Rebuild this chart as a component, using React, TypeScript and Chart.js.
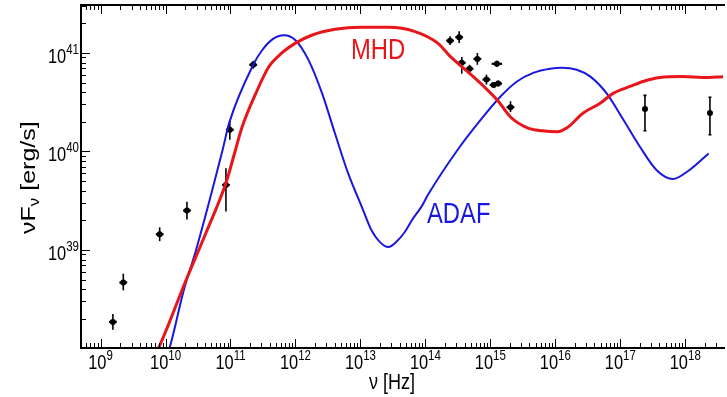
import React, { useEffect, useRef } from "react";
import { Chart, registerables } from "chart.js";

Chart.register(...registerables);

// ---- axis ranges (log10) ----
const xMinLog = 8.699;
const xMaxLog = 18.581;
const yMinLog = 38.005;
const yMaxLog = 41.487;
const xLabelExps = [9, 10, 11, 12, 13, 14, 15, 16, 17, 18];
const yLabelExps = [39, 40, 41];

// ---- ADAF model (log10 nu, log10 nuFnu) ----
const adafLogNu = [10.0, 10.06, 10.28, 10.47, 10.88, 10.98, 11.35, 11.49, 11.65, 11.82, 12.0, 12.2, 12.41, 12.61, 12.81, 13.02, 13.17, 13.3, 13.43, 13.55, 13.68, 13.8, 13.94, 14.04, 14.5, 14.85, 15.16, 15.41, 15.67, 15.92, 16.1, 16.33, 16.54, 16.79, 17.05, 17.3, 17.56, 17.81, 18.06, 18.36];
const adafLogL = [37.9, 38.0, 38.59, 39.0, 40.02, 40.29, 40.88, 41.03, 41.14, 41.18, 41.13, 40.93, 40.59, 40.18, 39.78, 39.44, 39.2, 39.08, 39.03, 39.08, 39.18, 39.31, 39.44, 39.56, 40.02, 40.32, 40.56, 40.71, 40.8, 40.84, 40.85, 40.83, 40.76, 40.59, 40.32, 40.05, 39.81, 39.72, 39.81, 39.98];

// ---- MHD model ----
const mhdLogNu = [9.85, 9.89, 10.32, 10.62, 10.93, 11.07, 11.18, 11.39, 11.59, 11.79, 12.0, 12.25, 12.61, 13.02, 13.43, 13.83, 14.19, 14.39, 14.65, 14.9, 15.11, 15.31, 15.57, 15.8, 16.03, 16.18, 16.43, 16.69, 16.89, 17.15, 17.35, 17.61, 17.96, 18.27, 18.6];
const mhdLogL = [37.95, 38.0, 38.7, 39.17, 39.68, 40.0, 40.25, 40.59, 40.86, 41.0, 41.1, 41.18, 41.24, 41.26, 41.26, 41.22, 41.1, 40.96, 40.81, 40.66, 40.52, 40.35, 40.24, 40.21, 40.2, 40.24, 40.39, 40.49, 40.59, 40.66, 40.71, 40.75, 40.76, 40.75, 40.76];

// ---- observed points ----
const ptLogNu = [9.19, 9.35, 9.91, 10.33, 10.93, 10.99, 11.35, 14.38, 14.52, 14.56, 14.68, 14.8, 15.1, 14.94, 15.05, 15.12, 15.31, 17.38, 18.38];
const ptLogL = [38.27, 38.67, 39.16, 39.4, 39.66, 40.22, 40.88, 41.125, 41.16, 40.9, 40.84, 40.94, 40.89, 40.73, 40.675, 40.69, 40.45, 40.43, 40.39];
const ptLogLhi = [38.35, 38.76, 39.23, 39.49, 39.83, 40.32, 40.92, 41.17, 41.22, 40.96, 40.88, 41.0, 40.92, 40.78, 40.7, 40.72, 40.51, 40.57, 40.55];
const ptLogLlo = [38.19, 38.59, 39.09, 39.31, 39.39, 40.12, 40.84, 41.08, 41.1, 40.79, 40.8, 40.88, 40.86, 40.68, 40.65, 40.66, 40.4, 40.21, 40.17];
const ptLogNuErr = [0.06, 0.06, 0.06, 0.06, 0.06, 0.06, 0.06, 0.06, 0.06, 0.06, 0.06, 0.06, 0.08, 0.06, 0.06, 0.06, 0.06, 0, 0];

const RED = "rgb(232,22,26)";
const BLUE = "rgb(24,24,222)";
const FONT = '"Liberation Sans", Arial, Helvetica, sans-serif';
const SX = 0.82;

const p10 = (v: number) => Math.pow(10, v);

function textW(ctx: CanvasRenderingContext2D, text: string, size: number) {
  ctx.save();
  ctx.font = `${size}px ${FONT}`;
  const w = ctx.measureText(text).width * SX;
  ctx.restore();
  return w;
}

function drawText(ctx: CanvasRenderingContext2D, text: string, x: number, y: number, size: number, color: string) {
  ctx.save();
  ctx.font = `${size}px ${FONT}`;
  ctx.translate(x, y);
  ctx.scale(SX, 1);
  ctx.textAlign = "left";
  ctx.textBaseline = "alphabetic";
  ctx.fillStyle = color;
  ctx.fillText(text, 0, 0);
  ctx.restore();
}

function drawPow(ctx: CanvasRenderingContext2D, exp: number, x: number, y: number, align: "right" | "center") {
  const base = "10";
  const e = String(exp);
  const bs = 20;
  const es = 14;
  const wb = textW(ctx, base, bs);
  const we = textW(ctx, e, es);
  const total = wb + we;
  const x0 = align === "right" ? x - total : x - total / 2;
  drawText(ctx, base, x0, y, bs, "#000");
  drawText(ctx, e, x0 + wb, y - 9, es, "#000");
}

const framePlugin = {
  id: "framePlugin",
  beforeDatasetsDraw(chart: any) {
    const ctx: CanvasRenderingContext2D = chart.ctx;
    const xs = chart.scales.x;
    const ys = chart.scales.y;
    ctx.save();
    ctx.strokeStyle = "#000";
    ctx.lineWidth = 1.6;
    for (let i = 0; i < ptLogNu.length; i++) {
      const px = xs.getPixelForValue(p10(ptLogNu[i]));
      const pyHi = ys.getPixelForValue(p10(ptLogLhi[i]));
      const pyLo = ys.getPixelForValue(p10(ptLogLlo[i]));
      const py = ys.getPixelForValue(p10(ptLogL[i]));
      ctx.beginPath();
      ctx.moveTo(px, pyHi);
      ctx.lineTo(px, pyLo);
      ctx.stroke();
      if (ptLogNuErr[i] > 0) {
        const pxL = xs.getPixelForValue(p10(ptLogNu[i] - ptLogNuErr[i]));
        const pxR = xs.getPixelForValue(p10(ptLogNu[i] + ptLogNuErr[i]));
        ctx.lineWidth = 2.2;
        ctx.beginPath();
        ctx.moveTo(pxL, py);
        ctx.lineTo(pxR, py);
        ctx.stroke();
        ctx.lineWidth = 1.6;
      } else {
        ctx.beginPath();
        ctx.moveTo(px - 1.5, pyHi);
        ctx.lineTo(px + 1.5, pyHi);
        ctx.moveTo(px - 1.5, pyLo);
        ctx.lineTo(px + 1.5, pyLo);
        ctx.stroke();
      }
    }
    ctx.restore();
  },
  afterDraw(chart: any) {
    const ctx: CanvasRenderingContext2D = chart.ctx;
    const xs = chart.scales.x;
    const ys = chart.scales.y;
    const a = chart.chartArea;
    ctx.save();
    ctx.strokeStyle = "#000";
    // frame
    ctx.lineWidth = 2;
    ctx.beginPath();
    ctx.moveTo(a.right + 2, a.top);
    ctx.lineTo(a.left, a.top);
    ctx.lineTo(a.left, a.bottom);
    ctx.lineTo(a.right + 2, a.bottom);
    ctx.stroke();
    // x ticks
    ctx.lineWidth = 1;
    for (let n = 8; n <= 18; n++) {
      for (let k = 1; k <= 9; k++) {
        const lv = n + Math.log10(k);
        if (lv < xMinLog || lv > xMaxLog) continue;
        const px = Math.round(xs.getPixelForValue(k * p10(n))) + 0.5;
        const len = k === 1 ? 9 : 5;
        ctx.beginPath();
        ctx.moveTo(px, a.bottom);
        ctx.lineTo(px, a.bottom - len);
        ctx.moveTo(px, a.top);
        ctx.lineTo(px, a.top + len);
        ctx.stroke();
      }
    }
    // y ticks
    for (let n = 37; n <= 41; n++) {
      for (let k = 1; k <= 9; k++) {
        const lv = n + Math.log10(k);
        if (lv < yMinLog || lv > yMaxLog) continue;
        const py = Math.round(ys.getPixelForValue(k * p10(n))) + 0.5;
        const len = k === 1 ? 9 : 5;
        ctx.beginPath();
        ctx.moveTo(a.left, py);
        ctx.lineTo(a.left + len, py);
        ctx.stroke();
      }
    }
    // tick labels
    for (const e of xLabelExps) {
      const px = xs.getPixelForValue(p10(e));
      drawPow(ctx, e, px, a.bottom + 21, "center");
    }
    for (const e of yLabelExps) {
      const py = ys.getPixelForValue(p10(e));
      drawPow(ctx, e, a.left - 2, py + 10, "right");
    }
    // x title
    {
      const s = 22;
      const t = "\u03bd [Hz]";
      const w = textW(ctx, t, s);
      drawText(ctx, t, 392 - w / 2, 389, s, "#000");
    }
    // y title (rotated)
    {
      ctx.save();
      ctx.translate(35, 234);
      ctx.rotate(-Math.PI / 2);
      ctx.scale(1, SX);
      ctx.fillStyle = "#000";
      ctx.textBaseline = "alphabetic";
      ctx.textAlign = "left";
      ctx.font = `25px ${FONT}`;
      const p1 = "\u03bdF";
      ctx.fillText(p1, 0, 0);
      let x = ctx.measureText(p1).width;
      ctx.font = `17px ${FONT}`;
      ctx.fillText("\u03bd", x, 5);
      x += ctx.measureText("\u03bd").width;
      ctx.font = `25px ${FONT}`;
      ctx.fillText(" [erg/s]", x, 0);
      ctx.restore();
    }
    // annotations
    drawText(ctx, "MHD", 351, 59, 29, RED);
    drawText(ctx, "ADAF", 427, 222.5, 29, BLUE);
    ctx.restore();
  },
};

export default function App() {
  const ref = useRef<HTMLCanvasElement | null>(null);
  useEffect(() => {
    if (!ref.current) return;
    const adaf = adafLogNu.map((v, i) => ({ x: p10(v), y: p10(adafLogL[i]) }));
    const mhd = mhdLogNu.map((v, i) => ({ x: p10(v), y: p10(mhdLogL[i]) }));
    const pts = ptLogNu.map((v, i) => ({ x: p10(v), y: p10(ptLogL[i]) }));
    const chart = new Chart(ref.current, {
      type: "scatter",
      data: {
        datasets: [
          {
            label: "MHD",
            data: mhd,
            showLine: true,
            borderColor: RED,
            borderWidth: 3,
            pointRadius: 0,
            tension: 0.4,
            cubicInterpolationMode: "monotone",
          },
          {
            label: "ADAF",
            data: adaf,
            showLine: true,
            borderColor: BLUE,
            borderWidth: 2,
            pointRadius: 0,
            tension: 0.4,
            cubicInterpolationMode: "monotone",
          },
          {
            label: "data",
            data: pts,
            showLine: false,
            pointRadius: 3,
            pointBackgroundColor: "#000",
            pointBorderColor: "#000",
            pointBorderWidth: 0,
          },
        ],
      } as any,
      options: {
        animation: false,
        responsive: false,
        devicePixelRatio: 1,
        layout: { padding: { left: 81, top: 5, right: 0, bottom: 49 } },
        plugins: { legend: { display: false }, tooltip: { enabled: false }, title: { display: false } },
        events: [],
        scales: {
          x: { type: "logarithmic", display: false, min: p10(xMinLog), max: p10(xMaxLog), bounds: "data" },
          y: { type: "logarithmic", display: false, min: p10(yMinLog), max: p10(yMaxLog), bounds: "data" },
        },
      } as any,
      plugins: [framePlugin],
    });
    return () => chart.destroy();
  }, []);
  return (
    <div style={{ position: "fixed", left: 0, top: 0, width: 727, height: 397, background: "#fff" }}>
      <canvas ref={ref} width={727} height={397} style={{ display: "block" }} />
    </div>
  );
}
